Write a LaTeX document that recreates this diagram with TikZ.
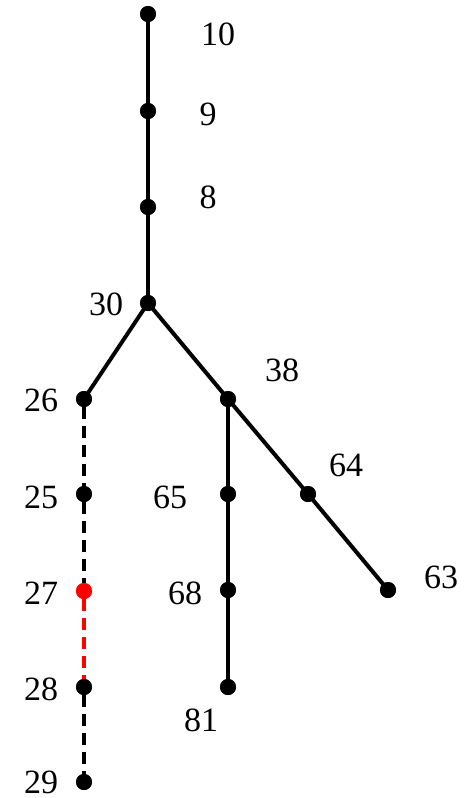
\documentclass[tikz,border=0pt]{standalone}
\usepackage{fontspec}
\setmainfont{Liberation Serif}
\begin{document}
\begin{tikzpicture}[x=1pt,y=-1pt,
  dot/.style={circle,fill=black,inner sep=0pt,minimum size=16pt},
  reddot/.style={circle,fill=red,inner sep=0pt,minimum size=16pt},
  lbl/.style={inner sep=0pt,font=\fontsize{34}{34}\selectfont},
  edge/.style={line width=4pt},
  dedge/.style={line width=4pt,dash pattern=on 12pt off 7pt}]
\fill[white] (0,0) rectangle (471,798);
\useasboundingbox (0,0) rectangle (471,798);
% nodes
\node[dot] (n10) at (148,14) {};
\node[dot] (n9) at (148,111) {};
\node[dot] (n8) at (148,207) {};
\node[dot] (n30) at (148,303) {};
\node[dot] (n26) at (84,399) {};
\node[dot] (n25) at (84,494) {};
\node[reddot] (n27) at (84,591) {};
\node[dot] (n28) at (84,687) {};
\node[dot] (n29) at (84,782) {};
\node[dot] (n38) at (228,399) {};
\node[dot] (n65) at (228,494) {};
\node[dot] (n68) at (228,590) {};
\node[dot] (n81) at (228,687) {};
\node[dot] (n64) at (308,494) {};
\node[dot] (n63) at (388,590) {};
% edges
\draw[edge] (n10.center) -- (n9.center) -- (n8.center) -- (n30.center);
\draw[edge] (n30.center) -- (n26.center);
\draw[edge] (n30.center) -- (n38.center) -- (n64.center) -- (n63.center);
\draw[edge] (n38.center) -- (n65.center) -- (n68.center) -- (n81.center);
\draw[dedge] (n26) -- (n25);
\draw[dedge] (n25) -- (n27);
\draw[dedge,red] (n27) -- (n28);
\draw[dedge] (n28) -- (n29);
% redraw dots on top
\foreach \n in {n10,n9,n8,n30,n26,n25,n28,n29,n38,n65,n68,n81,n64,n63}
  \fill (\n) circle (8pt);
\fill[red] (n27) circle (8pt);
% labels
\node[lbl] (l10) at (218,34) {10};
\node[lbl] (l9) at (208,114) {9};
\node[lbl] (l8) at (208,197) {8};
\node[lbl] (l30) at (106,304) {30};
\node[lbl] (l26) at (41,400) {26};
\node[lbl] (l25) at (41,497) {25};
\node[lbl] (l27) at (41,593) {27};
\node[lbl] (l28) at (41,689) {28};
\node[lbl] (l29) at (41,782) {29};
\node[lbl] (l38) at (282,370) {38};
\node[lbl] (l65) at (170,497) {65};
\node[lbl] (l68) at (185,593) {68};
\node[lbl] (l81) at (201,720) {81};
\node[lbl] (l64) at (346,465) {64};
\node[lbl] (l63) at (441,577) {63};
\end{tikzpicture}
\end{document}
